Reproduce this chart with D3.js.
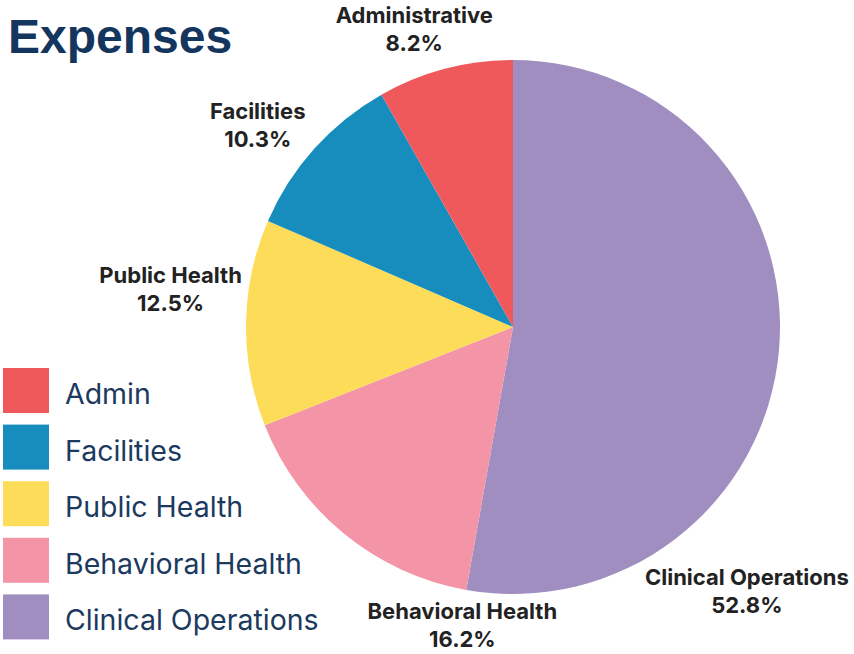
<!DOCTYPE html>
<html>
<head>
<meta charset="utf-8">
<script src="https://cdn.jsdelivr.net/npm/d3@7"></script>
<style>
  body { margin: 0; background: white; }
  svg { display: block; }
</style>
</head>
<body>
<script>
// Chart data
const categories = ["Clinical Operations", "Behavioral Health", "Public Health", "Facilities", "Administrative"];
const shares = [52.8, 16.2, 12.5, 10.3, 8.2];
const colors = ["#a18ec1", "#f494a7", "#fddc5a", "#168dbd", "#f0595b"];
const legendLabels = ["Admin", "Facilities", "Public Health", "Behavioral Health", "Clinical Operations"];
const legendColors = ["#f0595b", "#168dbd", "#fddc5a", "#f494a7", "#a18ec1"];

const createChart = () => {
    const width = 854;
    const height = 654;
    const cx = 513, cy = 327, radius = 267;

    const svg = d3.select("body")
      .append("svg")
        .attr("width", width)
        .attr("height", height);

    // title
    svg.append("text")
        .attr("x", 8)
        .attr("y", 53)
        .attr("fill", "#14365e")
        .style("font", "bold 48px 'Liberation Sans', Arial, sans-serif")
        .text("Expenses");

    // pie
    const data = categories.map((c, i) => ({ label: c, value: shares[i], color: colors[i] }));
    const pie = d3.pie().sort(null).value(d => d.value);
    const arcs = pie(data);
    const arc = d3.arc().innerRadius(0).outerRadius(radius);

    const g = svg.append("g").attr("transform", `translate(${cx},${cy})`);
    g.selectAll("path")
      .data(arcs)
      .join("path")
        .attr("fill", d => d.data.color)
        .attr("d", arc);

    // legend
    const legend = svg.append("g").attr("transform", "translate(3,368)");
    const item = legend.selectAll("g")
      .data(legendLabels)
      .join("g")
        .attr("transform", (d, i) => `translate(0,${i * 56.6})`);
    item.append("rect")
        .attr("width", 46)
        .attr("height", 45)
        .attr("fill", (d, i) => legendColors[i]);
    item.append("text")
        .attr("x", 62)
        .attr("y", 26)
        .attr("dy", "0.35em")
        .attr("fill", "#1b3a5e")
        .style("font", "28.5px Inter, sans-serif")
        .text(d => d);

    const lb = legend.node().getBBox();
    const pad = 46;
    const legendBox = { x0: 3 + lb.x - pad, y0: 368 + lb.y - pad, x1: 3 + lb.x + lb.width + pad, y1: 368 + lb.y + lb.height + pad };

    // labels, pushed radially out of the pie and nudged around it until they fit
    const labels = svg.append("g")
        .attr("text-anchor", "middle")
        .attr("fill", "#222")
        .style("font", "bold 22px Inter, sans-serif")
      .selectAll("g")
      .data(arcs)
      .join("g");
    labels.append("text").text(d => d.data.label);
    labels.append("text").attr("y", 28).text(d => d3.format(".1f")(d.data.value) + "%");

    const gap = 4;
    const angleShift = -3.6 * Math.PI / 180;
    const placed = [];
    const overlap = (a, b) => a.x0 < b.x1 && a.x1 > b.x0 && a.y0 < b.y1 && a.y1 > b.y0;
    const distToBox = b => {
        const dx = Math.max(b.x0 - cx, 0, cx - b.x1);
        const dy = Math.max(b.y0 - cy, 0, cy - b.y1);
        return Math.hypot(dx, dy);
    };

    labels.each(function(d) {
        const bb = this.getBBox();
        const boxAt = a => {
            let t = radius;
            let b;
            do {
                const px = cx + t * Math.sin(a), py = cy - t * Math.cos(a);
                b = { x0: px - bb.width / 2, x1: px + bb.width / 2, y0: py - bb.height / 2, y1: py + bb.height / 2 };
                t += 0.5;
            } while (distToBox(b) < radius + gap);
            return b;
        };
        const fits = b => b.x0 >= 0 && b.x1 <= width && b.y0 >= 0 && b.y1 <= height
            && !overlap(b, legendBox) && !placed.some(p => overlap(b, p));
        const mid = (d.startAngle + d.endAngle) / 2 + angleShift;
        let best = boxAt(mid);
        for (let k = 0; k <= 120; k++) {
            const tries = k === 0 ? [mid] : [mid + k * Math.PI / 180, mid - k * Math.PI / 180];
            const ok = tries.map(boxAt).find(fits);
            if (ok) { best = ok; break; }
        }
        placed.push(best);
        d3.select(this).attr("transform",
            `translate(${(best.x0 + best.x1) / 2 - (bb.x + bb.width / 2)},${(best.y0 + best.y1) / 2 - (bb.y + bb.height / 2)})`);
    });
};

const main = () => {
    createChart();
};

main();
</script>
</body>
</html>
